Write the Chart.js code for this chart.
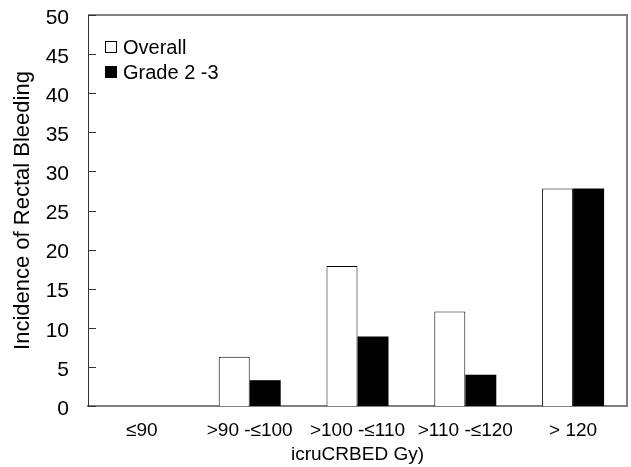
<!DOCTYPE html>
<html>
<head>
<meta charset="utf-8">
<script src="https://cdn.jsdelivr.net/npm/chart.js@4"></script>
<style>
  body { margin: 0; background: #fff; }
  canvas { display: block; }
</style>
</head>
<body>
<canvas id="grafico" width="631" height="467"></canvas>
<script>
// Datos del grafico
const categorias = ['≤90', '>90 -≤100', '>100 -≤110', '>110 -≤120', '> 120'];
const overall = [0, 6.3, 17.9, 12.1, 27.8];
const grado23 = [0, 3.3, 8.9, 4.0, 27.8];
const yTicks = [0, 5, 10, 15, 20, 25, 30, 35, 40, 45, 50];

const fuente = 'Arial, "Liberation Sans", sans-serif';

// Marco gris, marcas hacia dentro y leyenda dentro del area
const extras = {
  id: 'extras',
  afterDraw(chart) {
    const ctx = chart.ctx;
    const a = chart.chartArea;
    const y = chart.scales.y;
    ctx.save();
    ctx.strokeStyle = '#808080';
    ctx.lineWidth = 2;
    ctx.beginPath();
    ctx.moveTo(a.left, a.top);
    ctx.lineTo(a.right, a.top);
    ctx.lineTo(a.right, a.bottom);
    ctx.stroke();
    // marcas del eje y
    ctx.lineWidth = 1;
    ctx.strokeStyle = '#333';
    y.ticks.forEach(function (t, i) {
      const py = Math.round(y.getPixelForTick(i)) + 0.5;
      ctx.beginPath();
      ctx.moveTo(a.left, py);
      ctx.lineTo(a.left + 8, py);
      ctx.stroke();
    });
    // leyenda
    const items = [
      { texto: 'Overall', relleno: '#fff', y: 47 },
      { texto: 'Grade 2 -3', relleno: '#000', y: 72 }
    ];
    ctx.font = '20px ' + fuente;
    ctx.textBaseline = 'middle';
    items.forEach(function (it) {
      ctx.fillStyle = it.relleno;
      ctx.fillRect(105.5, it.y - 5.5, 11, 11);
      ctx.strokeStyle = '#000';
      ctx.lineWidth = 1;
      ctx.strokeRect(105.5, it.y - 5.5, 11, 11);
      ctx.fillStyle = '#000';
      ctx.fillText(it.texto, 123, it.y + 1);
    });
    ctx.restore();
  }
};

new Chart(document.getElementById('grafico').getContext('2d'), {
  type: 'bar',
  data: {
    labels: categorias,
    datasets: [
      {
        label: 'Overall',
        data: overall,
        backgroundColor: '#fff',
        borderColor: '#000',
        borderWidth: 1,
        categoryPercentage: 0.575,
        barPercentage: 1
      },
      {
        label: 'Grade 2 -3',
        data: grado23,
        backgroundColor: '#000',
        borderColor: '#000',
        borderWidth: 0,
        categoryPercentage: 0.575,
        barPercentage: 1
      }
    ]
  },
  options: {
    responsive: false,
    devicePixelRatio: 1,
    animation: false,
    layout: { padding: { top: 15, right: 4, bottom: 1, left: 0 } },
    plugins: {
      legend: { display: false },
      tooltip: { enabled: false }
    },
    scales: {
      x: {
        grid: { display: false },
        border: { color: '#808080', width: 2 },
        ticks: {
          color: '#000',
          font: { family: fuente, size: 19 },
          padding: 5,
          maxRotation: 0,
          autoSkip: false
        },
        title: {
          display: true,
          text: 'icruCRBED Gy)',
          color: '#000',
          font: { family: fuente, size: 19 },
          padding: { top: 0, bottom: 0 }
        },
        afterFit(scale) { scale.height = 60; }
      },
      y: {
        min: 0,
        max: 50,
        afterBuildTicks(scale) { scale.ticks = yTicks.map(v => ({ value: v })); },
        grid: { display: false },
        border: { color: '#333', width: 1 },
        ticks: {
          color: '#000',
          font: { family: fuente, size: 21 },
          padding: 11,
          labelOffset: 3
        },
        title: {
          display: true,
          text: 'Incidence of Rectal Bleeding',
          color: '#000',
          font: { family: fuente, size: 22 },
          padding: { top: 10, bottom: 0 }
        },
        afterFit(scale) {
          scale.width = 88;
          scale.paddingTop = 0;
          scale.paddingBottom = 0;
        }
      }
    }
  },
  plugins: [extras]
});
</script>
</body>
</html>
